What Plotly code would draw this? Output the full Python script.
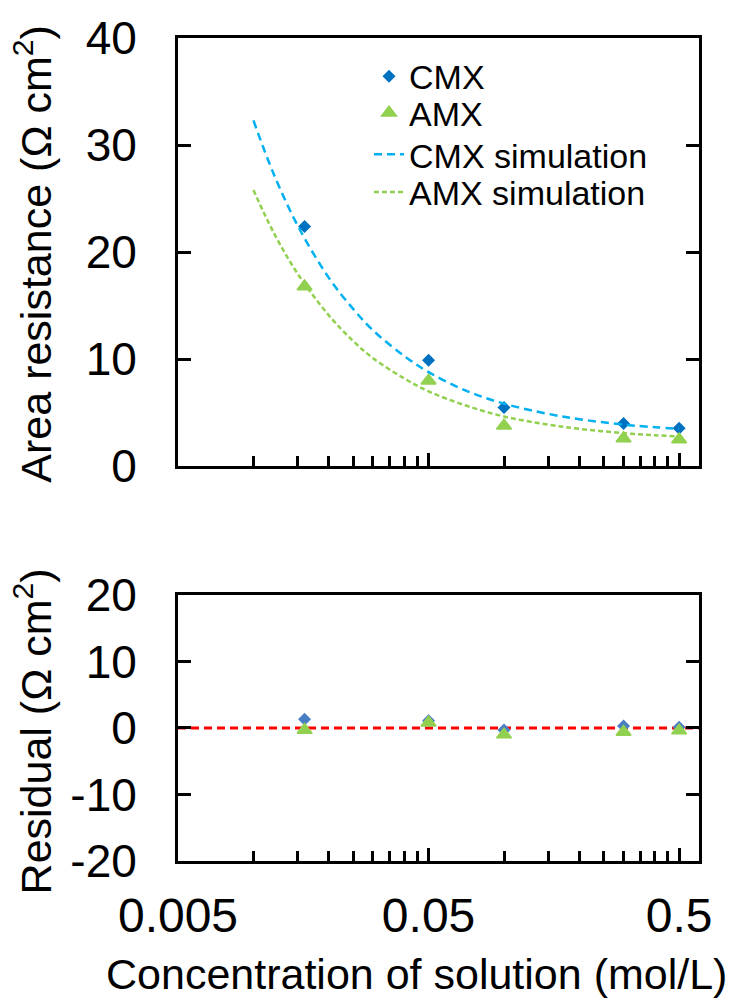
import plotly.graph_objects as go

# ---------------- data ----------------
conc = [0.016, 0.05, 0.1, 0.3, 0.5]
cmx_R = [22.4, 9.9, 5.5, 4.0, 3.55]
amx_R = [16.8, 8.0, 3.8, 2.6, 2.5]

sim_conc = [0.01, 0.012, 0.015, 0.02, 0.025, 0.03, 0.04, 0.05, 0.07, 0.1, 0.15, 0.2, 0.3, 0.4, 0.5]
cmx_sim = [32.3, 27.4, 22.5, 17.6, 14.7, 12.7, 10.3, 8.8, 7.1, 5.85, 4.9, 4.4, 3.9, 3.65, 3.5]
amx_sim = [25.8, 21.9, 18.0, 14.1, 11.7, 10.1, 8.2, 7.0, 5.7, 4.65, 3.9, 3.5, 3.1, 2.9, 2.8]

cmx_res = [1.3, 1.1, -0.3, 0.3, 0.1]
amx_res = [-0.3, 0.8, -1.0, -0.6, -0.4]

zero_x = [0.005, 0.6]
zero_y = [0, 0]

x_tickvals = [0.005, 0.05, 0.5]
x_ticktext = ["0.005", "0.05", "0.5"]
x_minor = [m * b for b in (0.005, 0.05) for m in range(2, 10)]

y1_tickvals = [0, 10, 20, 30, 40]
y1_ticktext = ["0", "10", "20", "30", "40"]
y2_tickvals = [-20, -10, 0, 10, 20]
y2_ticktext = ["-20", "-10", "0", "10", "20"]

# ---------------- geometry helpers ----------------
W, H = 730, 999
L, R, T, B = 178, 699, 29, 861


def px(xp):
    return (xp - L) / (R - L)


def py(yp):
    return (B - yp) / (B - T)


FONT = "Liberation Sans, Arial, sans-serif"
BLUE = "#0070C0"
RES_BLUE = "#4A7EC4"
LBLUE = "#00B0F0"
GREEN = "#92D050"

fig = go.Figure()

fig.add_trace(go.Scatter(x=conc, y=cmx_R, mode="markers", name="CMX",
                         marker=dict(symbol="diamond", size=10, color=BLUE),
                         xaxis="x", yaxis="y", legend="legend"))
fig.add_trace(go.Scatter(x=conc, y=amx_R, mode="markers", name="AMX",
                         marker=dict(symbol="triangle-up", size=13, color=GREEN,
                                     line=dict(color=GREEN, width=1.5)),
                         xaxis="x", yaxis="y", legend="legend2"))
fig.add_trace(go.Scatter(x=sim_conc, y=cmx_sim, mode="lines", name="CMX simulation",
                         line=dict(color=LBLUE, width=2.5, dash="8px,5px", shape="spline"),
                         xaxis="x", yaxis="y", legend="legend3"))
fig.add_trace(go.Scatter(x=sim_conc, y=amx_sim, mode="lines", name="AMX simulation",
                         line=dict(color=GREEN, width=2.5, dash="5px,3px", shape="spline"),
                         xaxis="x", yaxis="y", legend="legend4"))

fig.add_trace(go.Scatter(x=zero_x, y=zero_y, mode="lines", showlegend=False,
                         line=dict(color="#FF0000", width=3, dash="8px,5px"),
                         xaxis="x2", yaxis="y2"))
fig.add_trace(go.Scatter(x=conc, y=cmx_res, mode="markers", showlegend=False,
                         marker=dict(symbol="diamond", size=10, color=RES_BLUE),
                         xaxis="x2", yaxis="y2"))
fig.add_trace(go.Scatter(x=conc, y=amx_res, mode="markers", showlegend=False,
                         marker=dict(symbol="triangle-up", size=13, color=GREEN,
                                     line=dict(color=GREEN, width=1.5)),
                         xaxis="x2", yaxis="y2"))

top_dom = [py(462), 1.0]
bot_dom = [0.0, py(592)]

xcommon = dict(type="log", range=[-2.30103, -0.2218], showgrid=False, zeroline=False,
               showline=True, linecolor="black", linewidth=3, mirror=True,
               ticks="inside", ticklen=13, tickwidth=2.5, tickcolor="black",
               tickmode="array", tickvals=x_tickvals, ticktext=x_ticktext,
               minor=dict(ticks="inside", ticklen=10, tickwidth=2.5, tickcolor="black",
                          tickmode="array", tickvals=x_minor, showgrid=False))
ycommon = dict(showgrid=False, zeroline=False, showline=True, linecolor="black",
               linewidth=3, mirror="ticks", ticks="inside", ticklen=13, tickwidth=2.5,
               tickcolor="black", tickmode="array", ticklabelstandoff=29,
               tickfont=dict(family=FONT, size=46, color="black"))

fig.update_layout(
    width=W, height=H,
    margin=dict(l=L, r=W - R, t=T, b=H - B),
    paper_bgcolor="white", plot_bgcolor="white",
    font=dict(family=FONT, color="black"),
    xaxis=dict(**xcommon, anchor="y", domain=[0, 1], showticklabels=False),
    yaxis=dict(**ycommon, range=[0, 40], domain=top_dom, anchor="x",
               tickvals=y1_tickvals, ticktext=y1_ticktext),
    xaxis2=dict(**xcommon, anchor="y2", domain=[0, 1], showticklabels=True,
                ticklabelstandoff=10,
                tickfont=dict(family=FONT, size=48, color="black")),
    yaxis2=dict(**ycommon, range=[-20, 20], domain=bot_dom, anchor="x2",
                tickvals=y2_tickvals, ticktext=y2_ticktext),
)

leg_common = dict(x=px(369), xanchor="left", yanchor="middle", bgcolor="rgba(0,0,0,0)",
                  borderwidth=0, font=dict(family=FONT, size=34, color="black"))
fig.update_layout(
    legend=dict(**leg_common, y=py(68)),
    legend2=dict(**leg_common, y=py(105)),
    legend3=dict(**leg_common, y=py(147)),
    legend4=dict(**leg_common, y=py(185)),
)

ann_font = dict(family=FONT, size=43, color="black")
fig.add_annotation(text="Area resistance (Ω cm<sup>2</sup>)", textangle=-90,
                   xref="paper", yref="paper", x=px(33), y=py(247),
                   xanchor="center", yanchor="middle", showarrow=False, font=ann_font)
fig.add_annotation(text="Residual (Ω cm<sup>2</sup>)", textangle=-90,
                   xref="paper", yref="paper", x=px(33), y=py(730),
                   xanchor="center", yanchor="middle", showarrow=False, font=ann_font)
fig.add_annotation(text="Concentration of solution (mol/L)",
                   xref="paper", yref="paper", x=px(416), y=py(975),
                   xanchor="center", yanchor="middle", showarrow=False, font=ann_font)

fig.write_html("out.html")
